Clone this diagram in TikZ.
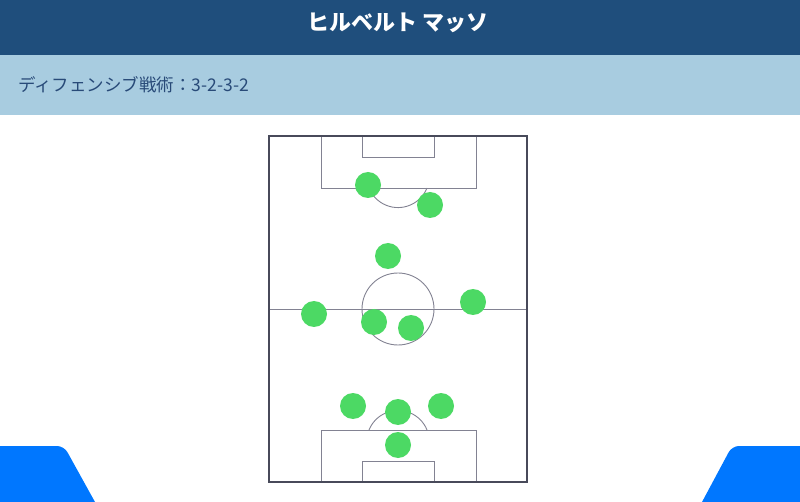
\documentclass[tikz,border=0pt]{standalone}
\usepackage{fontspec}
\usepackage{tikz}
\newfontfamily\jpfont{Noto Sans CJK JP}
\definecolor{titlebar}{RGB}{31,78,124}
\definecolor{subbar}{RGB}{168,204,224}
\definecolor{subtext}{RGB}{40,74,120}
\definecolor{pitchline}{RGB}{130,130,146}
\definecolor{pitchedge}{RGB}{72,74,90}
\definecolor{playergreen}{RGB}{76,217,100}
\definecolor{cornerblue}{RGB}{0,119,255}
\begin{document}
\begin{tikzpicture}[x=1pt, y=-1pt,
player/.style={circle, fill=playergreen, minimum size=26pt, inner sep=0pt},
line/.style={draw=pitchline, line width=0.9pt},
edge/.style={draw=pitchedge, line width=1.5pt}
]
\useasboundingbox (0,0) rectangle (800,502);
%Bars
\fill[titlebar] (0,0) rectangle (800,55);
\fill[subbar] (0,55) rectangle (800,115);
\node[text=white, font=\jpfont\bfseries\fontsize{22}{25}\selectfont] (title) at (398,23) {ヒルベルト マッソ};
\node[text=subtext, anchor=west, inner sep=0pt, font=\jpfont\fontsize{17.5}{20}\selectfont] (tactic) at (18,85) {ディフェンシブ戦術：3-2-3-2};
%Corners
\fill[cornerblue] (0,502) -- (0,446) [rounded corners=7] -- (64,446) [sharp corners] -- (95,502) -- cycle;
\fill[cornerblue] (800,502) -- (800,446) [rounded corners=7] -- (732,446) [sharp corners] -- (702,502) -- cycle;
%Pitch
\draw[line] (269,309) -- (527,309);
\draw[line] (398,309) circle[radius=36];
\draw[line] (321,136) rectangle (476,188);
\draw[line] (362,136) rectangle (434,157);
\draw[line] (427,188) arc[start angle=22, end angle=158, radius=31.3];
\draw[line] (321,482) rectangle (476,430);
\draw[line] (362,482) rectangle (434,461);
\draw[line] (369,430) arc[start angle=-158, end angle=-22, radius=31.3];
\draw[edge] (269,136) rectangle (527,482);
%Players
\node[player] (fw1) at (368,185) {};
\node[player] (fw2) at (430,205) {};
\node[player] (am)  at (388,256) {};
\node[player] (lm)  at (314,314) {};
\node[player] (rm)  at (473,302) {};
\node[player] (cm1) at (374,322) {};
\node[player] (cm2) at (411,328) {};
\node[player] (lcb) at (353,406) {};
\node[player] (cb)  at (398,412) {};
\node[player] (rcb) at (441,406) {};
\node[player] (gk)  at (398,445) {};
\end{tikzpicture}
\end{document}
